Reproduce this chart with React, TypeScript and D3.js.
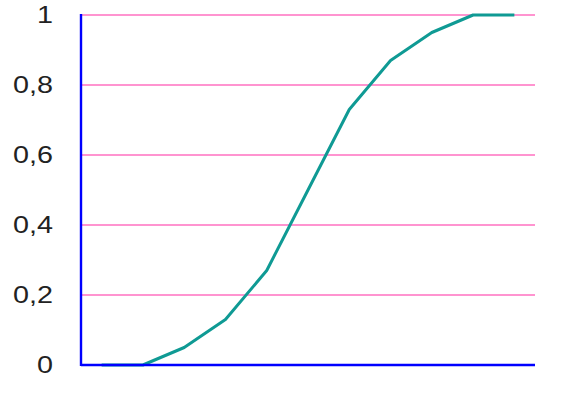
import React, { useEffect, useRef } from 'react';
import * as d3 from 'd3';

const categories = ['1', '2', '3', '4', '5', '6', '7', '8', '9', '10', '11'];
const values = [0, 0, 0.05, 0.13, 0.27, 0.5, 0.73, 0.87, 0.95, 1, 1];
const yTicks = [0, 0.2, 0.4, 0.6, 0.8, 1];

const App: React.FC = () => {
  const chartRef = useRef<SVGSVGElement | null>(null);

  useEffect(() => {
    if (chartRef.current) {
      drawChart();
    }
  }, []);

  const drawChart = () => {
    const svg = d3.select(chartRef.current);
    svg.selectAll('*').remove();

    const width = 563;
    const height = 394;
    const margin = { top: 15, right: 28, bottom: 29, left: 81 };

    const x = d3.scalePoint<string>()
      .domain(categories)
      .range([margin.left, width - margin.right])
      .padding(0.5);

    const y = d3.scaleLinear()
      .domain([0, 1])
      .range([height - margin.bottom, margin.top]);

    // gridlines
    svg.append('g')
      .selectAll('line')
      .data(yTicks.filter(t => t > 0))
      .enter().append('line')
      .attr('x1', margin.left)
      .attr('x2', width - margin.right)
      .attr('y1', d => y(d))
      .attr('y2', d => y(d))
      .attr('stroke', '#ff70c0')
      .attr('stroke-width', 1.3);

    // tick labels, stretched wide like the original
    svg.append('g')
      .selectAll('text')
      .data(yTicks)
      .enter().append('text')
      .attr('transform', d => `translate(53,${y(d)}) scale(1.25,1)`)
      .attr('dy', '0.36em')
      .attr('text-anchor', 'end')
      .attr('font-family', '"Liberation Sans", Arial, sans-serif')
      .attr('font-size', 23)
      .attr('fill', '#222')
      .text(d => String(d).replace('.', ','));

    const line = d3.line<number>()
      .x((_, i) => x(categories[i]) || 0)
      .y(d => y(d));

    svg.append('path')
      .datum(values)
      .attr('d', line)
      .attr('fill', 'none')
      .attr('stroke', '#0f9a94')
      .attr('stroke-width', 3)
      .attr('stroke-linejoin', 'round');

    // axes
    svg.append('line')
      .attr('x1', margin.left)
      .attr('x2', margin.left)
      .attr('y1', margin.top - 1)
      .attr('y2', height - margin.bottom + 1)
      .attr('stroke', '#0000ff')
      .attr('stroke-width', 2.4);

    svg.append('line')
      .attr('x1', margin.left)
      .attr('x2', width - margin.right)
      .attr('y1', height - margin.bottom)
      .attr('y2', height - margin.bottom)
      .attr('stroke', '#0000ff')
      .attr('stroke-width', 2.4);
  };

  return (
    <svg
      ref={chartRef}
      width={563}
      height={394}
      style={{ position: 'absolute', left: 0, top: 0, background: '#fff' }}
    ></svg>
  );
};

export default App;
